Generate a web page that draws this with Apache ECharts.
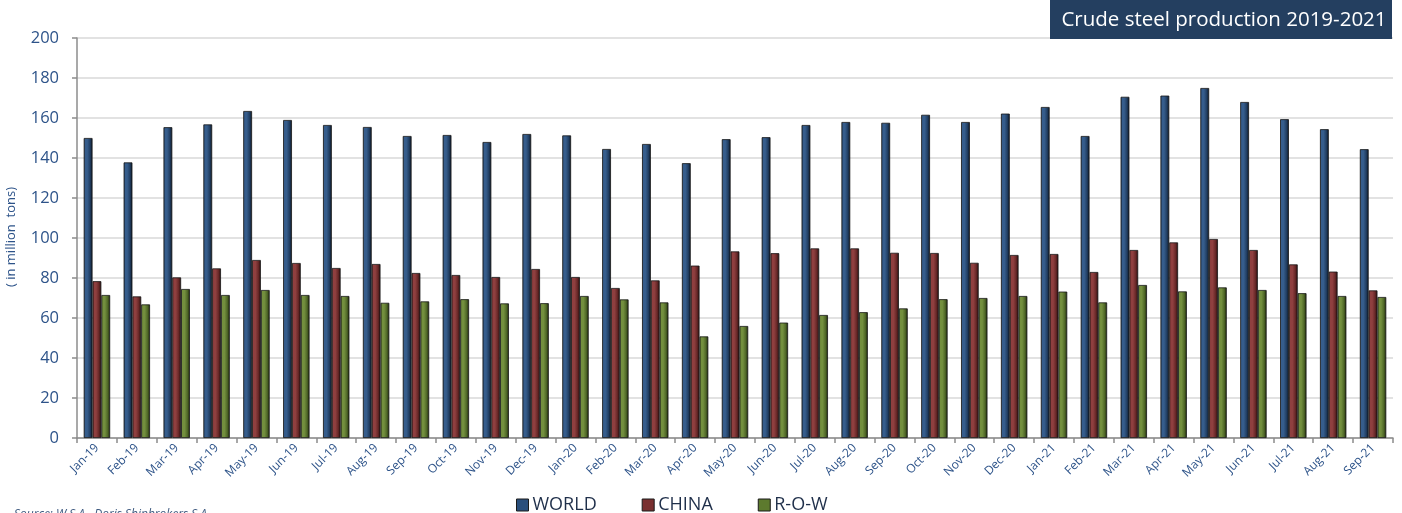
<!DOCTYPE html>
<html>
<head>
<meta charset="utf-8">
<title>Crude steel production 2019-2021</title>
<script src="https://cdn.jsdelivr.net/npm/echarts@6/dist/echarts.min.js"></script>
<style>
  html, body { margin: 0; padding: 0; background: #ffffff; }
  #chart { width: 1402px; height: 513px; }
</style>
</head>
<body>
<div id="chart"></div>
<script>
// Monthly crude steel output, million tons
const months = [
  'Jan-19','Feb-19','Mar-19','Apr-19','May-19','Jun-19','Jul-19','Aug-19','Sep-19','Oct-19','Nov-19','Dec-19',
  'Jan-20','Feb-20','Mar-20','Apr-20','May-20','Jun-20','Jul-20','Aug-20','Sep-20','Oct-20','Nov-20','Dec-20',
  'Jan-21','Feb-21','Mar-21','Apr-21','May-21','Jun-21','Jul-21','Aug-21','Sep-21'
];
const world = [
  150.0, 137.8, 155.4, 156.8, 163.5, 159.0, 156.5, 155.5, 151.0, 151.5, 148.0, 152.0,
  151.3, 144.5, 147.0, 137.4, 149.4, 150.4, 156.5, 158.0, 157.6, 161.6, 158.0, 162.2,
  165.5, 151.0, 170.6, 171.2, 175.0, 168.0, 159.4, 154.4, 144.4
];
const china = [
  78.4, 70.8, 80.3, 84.8, 89.0, 87.5, 85.0, 87.0, 82.5, 81.5, 80.5, 84.5,
  80.5, 75.0, 78.8, 86.2, 93.3, 92.4, 94.8, 94.8, 92.6, 92.5, 87.6, 91.5,
  92.0, 83.0, 94.0, 97.8, 99.5, 94.0, 86.8, 83.2, 73.8
];
const row = [
  71.5, 66.8, 74.5, 71.5, 74.0, 71.5, 71.0, 67.6, 68.3, 69.4, 67.3, 67.4,
  71.0, 69.3, 67.8, 50.8, 56.0, 57.7, 61.5, 62.9, 64.8, 69.4, 70.0, 71.0,
  73.2, 67.8, 76.5, 73.3, 75.3, 74.0, 72.4, 71.0, 70.5
];
const yTicks = { min: 0, max: 200, interval: 20 };
const seriesNames = ['WORLD', 'CHINA', 'R-O-W'];
const yAxisTitle = '( in million  tons)';

// Horizontal shading gives each bar a bevelled, rounded look
function bevel(dark, light, base, edge) {
  return new echarts.graphic.LinearGradient(0, 0, 1, 0, [
    { offset: 0, color: edge },
    { offset: 0.15, color: light },
    { offset: 0.4, color: light },
    { offset: 0.72, color: base },
    { offset: 1, color: dark }
  ]);
}
const palettes = [
  bevel('#0a1422', '#365d8c', '#223f63', '#142539'),
  bevel('#250d0d', '#8f3f3f', '#682828', '#361414'),
  bevel('#1b250a', '#738f3e', '#506828', '#283414')
];
const legendColors = ['#2a4f7c', '#7a3030', '#5d7a2e'];

const blue = '#2d5389';
const chart = echarts.init(document.getElementById('chart'), null, { renderer: 'canvas' });

function makeSeries(name, data, idx) {
  return {
    name: name,
    type: 'bar',
    data: data,
    barWidth: 8.8,
    barGap: '0%',
    itemStyle: {
      color: palettes[idx],
      borderColor: '#161616',
      borderWidth: 0.8
    },
    emphasis: { disabled: true }
  };
}

chart.setOption({
  animation: false,
  color: legendColors,
  grid: { left: 77, right: 9, top: 38, bottom: 75, containLabel: false, outerBoundsMode: 'none' },
  legend: {
    data: seriesNames.map((n, i) => ({
      name: n,
      itemStyle: { color: legendColors[i], borderColor: '#1a1a1a', borderWidth: 1 }
    })),
    left: 511,
    top: 491,
    icon: 'rect',
    itemWidth: 12,
    itemHeight: 12,
    itemGap: 45,
    textStyle: { fontFamily: 'Open Sans', fontSize: 18, color: '#1f2f4a', padding: [0, 0, 0, -1] }
  },
  xAxis: {
    type: 'category',
    data: months,
    boundaryGap: true,
    axisLine: { lineStyle: { color: '#8c8c8c', width: 1.5 } },
    axisTick: { show: true, length: 5, lineStyle: { color: '#8c8c8c', width: 1.5 } },
    axisLabel: {
      rotate: 45,
      interval: 0,
      margin: 8,
      fontFamily: 'Open Sans',
      fontSize: 12,
      color: blue
    },
    splitLine: { show: false }
  },
  yAxis: {
    type: 'value',
    min: yTicks.min,
    max: yTicks.max,
    interval: yTicks.interval,
    axisLine: { show: true, lineStyle: { color: '#8c8c8c', width: 1.5 } },
    axisTick: { show: true, length: 5, lineStyle: { color: '#8c8c8c', width: 1.5 } },
    axisLabel: { fontFamily: 'Open Sans', fontSize: 16.5, color: blue, margin: 18 },
    splitLine: { show: true, lineStyle: { color: '#d9d9d9', width: 1.5 } }
  },
  series: [
    makeSeries(seriesNames[0], world, 0),
    makeSeries(seriesNames[1], china, 1),
    makeSeries(seriesNames[2], row, 2)
  ],
  graphic: [
    {
      // vertical unit caption beside the value axis
      type: 'text',
      x: 11,
      y: 237,
      rotation: Math.PI / 2,
      style: {
        text: yAxisTitle,
        fill: blue,
        font: '13px "Open Sans"',
        align: 'center',
        verticalAlign: 'middle'
      }
    },
    {
      type: 'rect',
      shape: { x: 1050, y: 0, width: 342, height: 39 },
      style: { fill: '#243f60' },
      z: 10
    },
    {
      type: 'text',
      x: 1224,
      y: 20,
      style: {
        text: 'Crude steel production 2019-2021',
        fill: '#ffffff',
        font: '20.5px "Open Sans"',
        align: 'center',
        verticalAlign: 'middle'
      },
      z: 11
    },
    {
      type: 'text',
      x: 14,
      y: 509,
      style: {
        text: 'Source: W.S.A., Doris Shipbrokers S.A.',
        fill: '#3f5a80',
        font: 'italic 12px "Open Sans"',
        align: 'left',
        verticalAlign: 'top'
      },
      z: 11
    }
  ]
});
</script>
</body>
</html>
